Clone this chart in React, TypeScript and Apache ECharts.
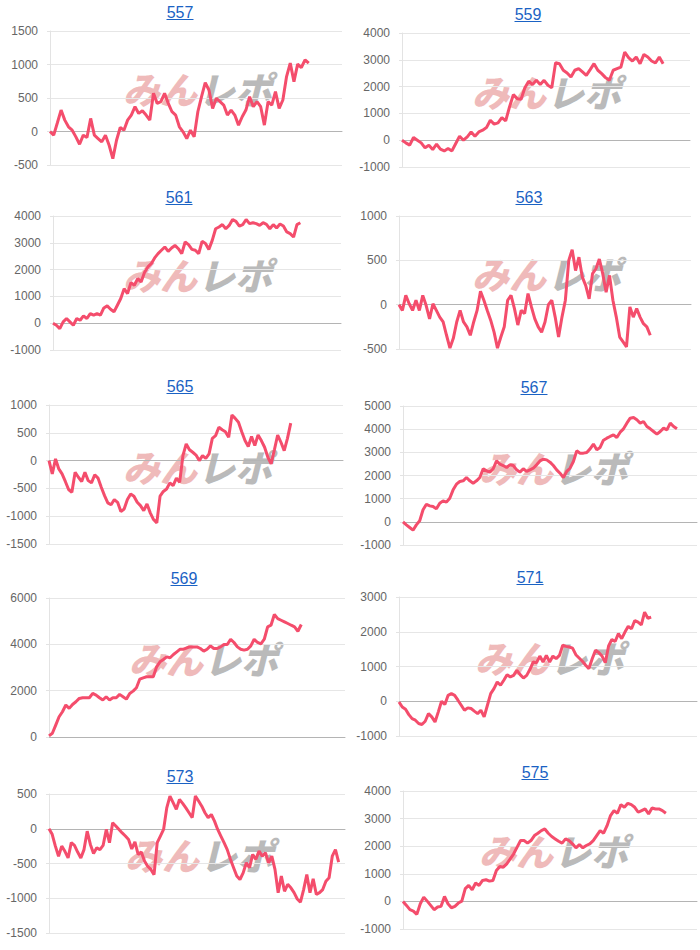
import React, { useEffect, useRef } from "react";
import * as echarts from "echarts";

const TITLES = ["557", "559", "561", "563", "565", "567", "569", "571", "573", "575"];

const S557 = [0, -55, 130, 320, 170, 70, 20, -80, -190, -55, -90, 195, -55, -105, -155, -55, -205, -405, -130, 60, 20, 170, 245, 370, 270, 310, 245, 170, 570, 420, 445, 570, 420, 295, 245, 70, -5, -105, 20, -80, 295, 520, 730, 620, 345, 495, 445, 395, 245, 320, 245, 95, 220, 320, 520, 370, 445, 370, 95, 445, 395, 595, 345, 470, 820, 1020, 745, 1005, 955, 1070, 1020];
const S559 = [0, -100, -185, 100, 0, -100, -285, -185, -350, -150, -335, -400, -310, -400, -125, 150, 0, 125, 310, 150, 310, 375, 470, 745, 600, 645, 845, 720, 1240, 1700, 1550, 1530, 1960, 2200, 2075, 2235, 2075, 2235, 2050, 1960, 2895, 2855, 2610, 2510, 2360, 2610, 2670, 2545, 2420, 2635, 2855, 2610, 2485, 2335, 2235, 2610, 2670, 2730, 3290, 3080, 2955, 3105, 2855, 3200, 3105, 2955, 2880, 3105, 2855];
const S561 = [0, -75, -200, 50, 175, 50, -75, 175, 110, 275, 175, 360, 300, 360, 300, 570, 645, 520, 420, 670, 920, 1290, 1105, 1515, 1415, 1665, 1540, 1890, 2100, 2220, 2435, 2595, 2720, 2845, 2680, 2805, 2905, 2780, 2595, 3030, 2930, 2755, 2720, 2595, 3055, 2970, 2755, 3090, 3525, 3590, 3680, 3525, 3650, 3870, 3800, 3625, 3680, 3870, 3715, 3750, 3715, 3650, 3750, 3690, 3525, 3680, 3555, 3700, 3625, 3405, 3340, 3215, 3680, 3750];
const S563 = [0, -65, 105, 10, -65, 50, -65, 105, -10, -160, 10, -65, -140, -195, -345, -490, -380, -195, -65, -195, -250, -345, -195, -65, 150, 50, -65, -175, -310, -490, -365, -250, 50, 105, -45, -230, -65, -100, 125, -25, -160, -250, -310, -195, 0, 50, -140, -365, -140, 50, 500, 620, 385, 535, 310, 215, 65, 350, 405, 515, 350, 140, 330, 50, -140, -365, -420, -475, -25, -140, -45, -140, -215, -250, -345];
const S565 = [0, -240, 30, -150, -240, -375, -520, -570, -210, -300, -375, -210, -360, -400, -255, -315, -480, -630, -760, -795, -700, -750, -915, -870, -700, -600, -640, -750, -810, -900, -780, -940, -1060, -1120, -640, -555, -510, -400, -450, -315, -390, 90, 300, 195, 150, 100, 0, 90, 40, 120, 400, 450, 600, 555, 520, 420, 820, 760, 690, 520, 360, 255, 435, 270, 460, 360, 240, 60, -60, 195, 460, 330, 180, 400, 675];
const S567 = [0, -130, -245, -360, -130, 45, 520, 760, 690, 660, 560, 805, 905, 850, 1020, 1380, 1625, 1740, 1770, 1915, 1770, 1670, 1770, 1915, 2290, 2200, 2145, 2290, 2630, 2490, 2430, 2345, 2460, 2430, 2245, 2145, 2290, 2175, 2245, 2315, 2460, 2630, 2705, 2675, 2575, 2430, 2245, 2100, 1915, 2175, 2315, 2605, 3065, 2965, 2965, 2995, 3150, 3355, 3110, 3210, 3525, 3610, 3685, 3755, 3640, 3870, 4015, 4260, 4475, 4505, 4405, 4260, 4330, 4115, 4015, 3900, 3785, 3900, 4045, 3970, 4260, 4115, 4015];
const S569 = [50, 160, 515, 875, 1090, 1380, 1235, 1405, 1520, 1665, 1695, 1695, 1695, 1880, 1810, 1695, 1595, 1740, 1595, 1695, 1695, 1840, 1740, 1635, 1880, 1980, 2125, 2500, 2555, 2600, 2600, 2600, 3030, 3245, 3345, 3460, 3420, 3560, 3675, 3790, 3790, 3850, 3890, 3890, 3890, 3820, 3705, 3790, 3935, 3820, 3820, 3890, 3990, 3990, 4220, 4080, 3890, 3790, 3750, 3790, 3935, 4220, 4080, 4020, 4220, 4755, 4825, 5285, 5110, 5040, 4970, 4900, 4825, 4755, 4565, 4855];
const S571 = [-20, -165, -230, -385, -500, -545, -640, -670, -575, -355, -450, -595, -305, 0, -95, 170, 220, 170, 30, -115, -260, -190, -210, -285, -355, -260, -450, -115, 220, 365, 555, 460, 605, 765, 700, 745, 890, 765, 670, 745, 920, 1130, 1110, 1300, 1130, 1320, 1130, 1300, 1225, 1320, 1610, 1580, 1560, 1530, 1340, 1245, 1150, 1035, 940, 1225, 1465, 1400, 1300, 1110, 1590, 1780, 1720, 1945, 1800, 1990, 2155, 2085, 2325, 2275, 2200, 2565, 2390, 2420];
const S573 = [0, -80, -250, -395, -250, -325, -420, -200, -240, -335, -420, -300, -35, -225, -355, -275, -300, -240, -10, -200, 85, 40, -10, -60, -105, -155, -290, -190, -370, -335, -465, -540, -585, -660, -200, -105, -10, 300, 470, 375, 280, 420, 365, 300, 230, 160, 470, 400, 325, 230, 160, 205, 110, -10, -105, -200, -300, -440, -560, -680, -730, -635, -490, -560, -370, -440, -320, -395, -345, -490, -395, -585, -920, -680, -900, -800, -850, -920, -1010, -1055, -875, -660, -920, -720, -945, -920, -875, -755, -705, -395, -300, -480];
const S575 = [0, -145, -300, -350, -470, -85, 155, 10, -145, -300, -205, -180, 180, -85, -230, -180, -60, 10, 460, 580, 420, 665, 580, 760, 785, 735, 760, 1120, 1265, 1240, 1360, 1540, 1725, 1965, 2205, 2205, 2110, 2205, 2385, 2470, 2565, 2625, 2470, 2350, 2265, 2180, 2110, 2265, 2205, 2085, 1940, 2060, 1940, 2025, 2085, 2205, 2385, 2565, 2470, 2745, 3110, 3290, 3195, 3505, 3410, 3555, 3505, 3410, 3230, 3290, 3350, 3170, 3385, 3350, 3350, 3290, 3195];

const SERIES = [S557, S559, S561, S563, S565, S567, S569, S571, S573, S575];
// total number of x slots (days) on each chart's x axis
const SLOTS = [80, 76, 86, 87, 91, 89, 89, 92, 94, 86];
const Y_MIN = [-500, -1000, -1000, -500, -1500, -1000, 0, -1000, -1500, -1000];
const Y_MAX = [1500, 4000, 4000, 1000, 1000, 5000, 6000, 3000, 500, 4000];
const Y_STEP = [500, 1000, 1000, 500, 500, 1000, 2000, 1000, 500, 1000];

// layout: grid box, title centre, watermark centre
const LAYOUT = [
  { l: 50, t: 31, w: 292, h: 134, tx: 180, ty: 12, wx: 196, wy: 88 },
  { l: 402, t: 33, w: 288, h: 134, tx: 528, ty: 14, wx: 545, wy: 91 },
  { l: 53, t: 216, w: 288, h: 134, tx: 179, ty: 197, wx: 196, wy: 274 },
  { l: 399, t: 216, w: 292, h: 133, tx: 529, ty: 197, wx: 545, wy: 273 },
  { l: 49, t: 405, w: 294, h: 139, tx: 180, ty: 386, wx: 196, wy: 466 },
  { l: 403, t: 406, w: 294, h: 139, tx: 534, ty: 387, wx: 552, wy: 467 },
  { l: 49, t: 598, w: 296, h: 139, tx: 184, ty: 578, wx: 202, wy: 658 },
  { l: 399, t: 597, w: 298, h: 139, tx: 530, ty: 577, wx: 548, wy: 657 },
  { l: 49, t: 794, w: 296, h: 139, tx: 180, ty: 776, wx: 198, wy: 854 },
  { l: 403, t: 791, w: 294, h: 138, tx: 535, ty: 772, wx: 552, wy: 850 },
];

const LINE_COLOR = "#f44d6c";
const TITLE_COLOR = "#1a62c4";
const FONT = "'Liberation Sans', Arial, sans-serif";
const WM_FONT = "italic 900 37px 'Noto Sans CJK JP', sans-serif";

export default function App() {
  const ref = useRef<HTMLDivElement>(null);
  useEffect(() => {
    if (!ref.current) return;
    const chart = echarts.init(ref.current, undefined, { renderer: "svg" });
    const grid: any[] = [];
    const xAxis: any[] = [];
    const yAxis: any[] = [];
    const series: any[] = [];
    const graphic: any[] = [];
    SERIES.forEach((data, i) => {
      const L = LAYOUT[i];
      grid.push({ left: L.l, top: L.t, width: L.w, height: L.h });
      const cats = Array.from({ length: SLOTS[i] }, (_, k) => String(k + 1));
      xAxis.push({
        type: "category",
        gridIndex: i,
        data: cats,
        boundaryGap: false,
        axisLabel: { show: false },
        axisTick: { show: false },
        splitLine: { show: false },
        axisLine: { show: true, onZero: true, lineStyle: { color: "#b4b4b4", width: 1 } },
      });
      yAxis.push({
        type: "value",
        gridIndex: i,
        min: Y_MIN[i],
        max: Y_MAX[i],
        interval: Y_STEP[i],
        axisLine: { show: true, lineStyle: { color: "#e3e3e3" } },
        axisTick: { show: true, length: 3, lineStyle: { color: "#e3e3e3" } },
        axisLabel: {
          color: "#666",
          fontSize: 12,
          fontFamily: FONT,
          margin: 12,
          formatter: (v: number) => String(v),
        },
        splitLine: { show: true, lineStyle: { color: "#e6e6e6", width: 1 } },
      });
      series.push({
        type: "line",
        name: TITLES[i],
        xAxisIndex: i,
        yAxisIndex: i,
        data,
        showSymbol: false,
        symbol: "none",
        z: 5,
        lineStyle: { color: LINE_COLOR, width: 3 },
      });
      graphic.push({
        type: "text",
        x: L.tx,
        y: L.ty,
        z: 10,
        style: {
          text: TITLES[i],
          align: "center",
          verticalAlign: "middle",
          fill: TITLE_COLOR,
          font: `16px ${FONT}`,
        },
      });
      graphic.push({
        type: "line",
        z: 10,
        shape: { x1: L.tx - 13.5, y1: L.ty + 7.5, x2: L.tx + 13.5, y2: L.ty + 7.5 },
        style: { stroke: TITLE_COLOR, lineWidth: 1 },
      });
      graphic.push({
        type: "text",
        x: L.wx + 1,
        y: L.wy,
        z: 0,
        style: {
          text: "みん",
          align: "right",
          verticalAlign: "middle",
          fill: "#efbaba",
          font: WM_FONT,
        },
      });
      graphic.push({
        type: "text",
        x: L.wx + 2,
        y: L.wy,
        z: 0,
        style: {
          text: "レポ",
          align: "left",
          verticalAlign: "middle",
          fill: "#bababa",
          font: WM_FONT,
        },
      });
    });
    chart.setOption({
      animation: false,
      backgroundColor: "#ffffff",
      grid,
      xAxis,
      yAxis,
      series,
      graphic,
    });
    return () => chart.dispose();
  }, []);
  return (
    <div
      ref={ref}
      style={{ position: "absolute", left: 0, top: 0, width: 700, height: 950 }}
    />
  );
}
